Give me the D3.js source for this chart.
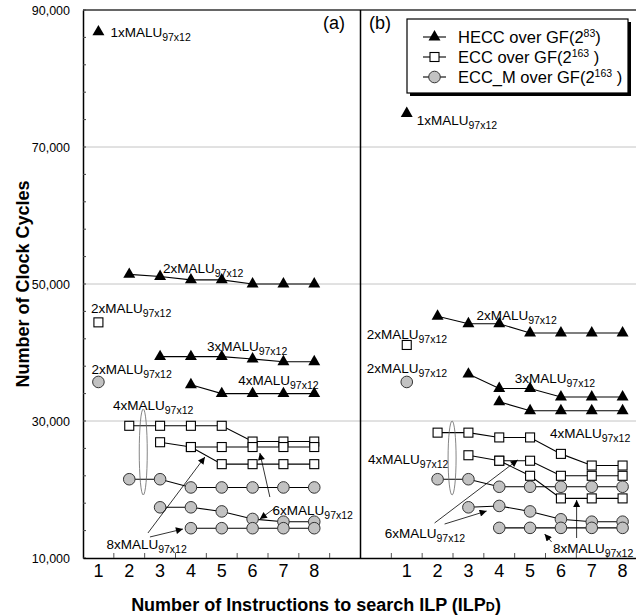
<!DOCTYPE html>
<html>
<head>
<meta charset="utf-8">
<script src="https://cdn.jsdelivr.net/npm/d3@7"></script>
<style>
  body { margin: 0; background: #fff; }
  text { font-family: "Liberation Sans", Arial, sans-serif; fill: #000; }
</style>
</head>
<body>
<svg width="636" height="615"></svg>
<script>
// ILP values on the x axis, two panels side by side
var ilp = ['1', '2', '3', '4', '5', '6', '7', '8']
var yTicks = [10000, 30000, 50000, 70000, 90000]

// panel (a) - each series starts at the ILP given in "start"
var heccA1 = [86800]
var heccA2 = [51400, 51100, 50600, 50600, 50000, 50000, 50000]
var heccA3 = [39400, 39400, 39400, 39050, 38650, 38650]
var heccA4 = [35300, 34000, 34000, 34000, 34000]
var eccA2 = [44400]
var eccA4 = [29300, 29300, 29300, 29300, 27000, 27000, 27000]
var eccA6 = [26900, 26200, 26200, 26200, 26200, 26200]
var eccA8 = [26200, 23700, 23700, 23700, 23700]
var eccmA2 = [35700]
var eccmA4 = [21500, 21500, 20300, 20300, 20300, 20300, 20300]
var eccmA6 = [17400, 17400, 16800, 15700, 15300, 15300]
var eccmA8 = [14350, 14350, 14350, 14350, 14350]

// panel (b)
var heccB1 = [74900]
var heccB2 = [45300, 44200, 44200, 42850, 42850, 42850, 42850]
var heccB3 = [36850, 34750, 34750, 33500, 33500, 33500]
var heccB4 = [32800, 31500, 31500, 31500, 31500]
var eccB2 = [41100]
var eccB4 = [28300, 28300, 27600, 27600, 25200, 23500, 23500]
var eccB6 = [25000, 24200, 24200, 22000, 22000, 22000]
var eccB8 = [24200, 22000, 18700, 18700, 18700]
var eccmB2 = [35700]
var eccmB4 = [21500, 21500, 20400, 20400, 20400, 20400, 20400]
var eccmB6 = [17400, 17600, 16800, 15650, 15300, 15300]
var eccmB8 = [14400, 14400, 14400, 14400, 14400]

var series = [
  { type: 'hecc', panel: 'a', start: 1, vals: heccA1 },
  { type: 'hecc', panel: 'a', start: 2, vals: heccA2 },
  { type: 'hecc', panel: 'a', start: 3, vals: heccA3 },
  { type: 'hecc', panel: 'a', start: 4, vals: heccA4 },
  { type: 'ecc', panel: 'a', start: 1, vals: eccA2 },
  { type: 'ecc', panel: 'a', start: 2, vals: eccA4 },
  { type: 'ecc', panel: 'a', start: 3, vals: eccA6 },
  { type: 'ecc', panel: 'a', start: 4, vals: eccA8 },
  { type: 'eccm', panel: 'a', start: 1, vals: eccmA2 },
  { type: 'eccm', panel: 'a', start: 2, vals: eccmA4 },
  { type: 'eccm', panel: 'a', start: 3, vals: eccmA6 },
  { type: 'eccm', panel: 'a', start: 4, vals: eccmA8 },
  { type: 'hecc', panel: 'b', start: 1, vals: heccB1 },
  { type: 'hecc', panel: 'b', start: 2, vals: heccB2 },
  { type: 'hecc', panel: 'b', start: 3, vals: heccB3 },
  { type: 'hecc', panel: 'b', start: 4, vals: heccB4 },
  { type: 'ecc', panel: 'b', start: 1, vals: eccB2 },
  { type: 'ecc', panel: 'b', start: 2, vals: eccB4 },
  { type: 'ecc', panel: 'b', start: 3, vals: eccB6 },
  { type: 'ecc', panel: 'b', start: 4, vals: eccB8 },
  { type: 'eccm', panel: 'b', start: 1, vals: eccmB2 },
  { type: 'eccm', panel: 'b', start: 2, vals: eccmB4 },
  { type: 'eccm', panel: 'b', start: 3, vals: eccmB6 },
  { type: 'eccm', panel: 'b', start: 4, vals: eccmB8 }
]

// annotations: panel, ILP, x nudge, value at text baseline, multiplier
var notes = [
  ['a', '1', 12, 86000, '1'], ['a', '3', 3, 51600, '2'], ['a', '1', -7.5, 45770, '2'],
  ['a', '1', -7, 36860, '2'], ['a', '4', 16, 40150, '3'], ['a', '5', 16.5, 35260, '4'],
  ['a', '1', 14.6, 31600, '4'], ['a', '6', 20, 16280, '6'], ['a', '1', 8, 11310, '8'],
  ['b', '1', 10, 73220, '1'], ['b', '3', 8, 44750, '2'], ['b', '1', -40, 41970, '2'],
  ['b', '1', -40, 37010, '2'], ['b', '4', 15.5, 35550, '3'], ['b', '6', -11, 27520, '4'],
  ['b', '1', -38.7, 23720, '4'], ['b', '1', -22, 12920, '6'], ['b', '6', -8, 10730, '8']
]
var arrows = [
  ['a', '2', 18.7, 13650, '4', 14, 24750], ['a', '2', 20.7, 13070, '4', -8, 14230],
  ['a', '6', 17.3, 18900, '6', 7.3, 25330], ['a', '6', 22.3, 17300, '6', 7.3, 15690],
  ['b', '2', -3, 15110, '5', -12.4, 24310], ['b', '2', 7, 14960, '4', -12.6, 16860],
  ['b', '6', 15.7, 12920, '6', 15.7, 18470], ['b', '6', -9.3, 12340, '6', -16.3, 13500]
]
var ellipses = [['a', '2', 14, 25480, 6280], ['b', '2', 14.5, 24600, 5400]]

var legendItems = [
  { type: 'hecc', text: 'HECC over GF(2', sup: '83', tail: ')' },
  { type: 'ecc', text: 'ECC over GF(2', sup: '163', tail: ' )' },
  { type: 'eccm', text: 'ECC_M over GF(2', sup: '163', tail: ' )' }
]

var svg = d3.select('svg')
var margin = { top: 10, right: 638, bottom: 558, left: 83 }

var keys = ilp.map(d => 'a' + d).concat(['g1', 'g2'], ilp.map(d => 'b' + d))
var x = d3.scaleBand().domain(keys).range([margin.left, margin.right])
var y = d3.scaleLinear().domain([10000, 90000]).range([margin.bottom, margin.top])
var xc = (p, k) => x(p + k) + x.bandwidth() / 2

var defs = svg.append('defs')
defs.append('marker').attr('id', 'head')
  .attr('viewBox', '0 0 10 10').attr('refX', 10).attr('refY', 5)
  .attr('markerWidth', 9).attr('markerHeight', 7).attr('markerUnits', 'userSpaceOnUse')
  .attr('orient', 'auto')
  .append('path').attr('d', 'M0,0L10,5L0,10z').attr('fill', '#000')

// grid
svg.append('g').selectAll('line').data([30000, 50000, 70000]).join('line')
  .attr('x1', margin.left).attr('x2', margin.right)
  .attr('y1', d => y(d)).attr('y2', d => y(d))
  .attr('stroke', '#c4c4c4').attr('stroke-width', 1)

svg.append('line').attr('x1', margin.left).attr('x2', margin.right)
  .attr('y1', y(90000)).attr('y2', y(90000))
  .attr('stroke', '#333').attr('stroke-width', 1.3)

// y axis
var ya = svg.append('g').attr('transform', 'translate(' + margin.left + ',0)')
  .call(d3.axisLeft(y).tickValues(yTicks).tickFormat(d3.format(',')).tickSize(0).tickPadding(13))
ya.select('.domain').attr('stroke', '#000').attr('stroke-width', 1.5)
ya.selectAll('text').attr('font-size', 12.5).attr('font-family', '"Liberation Sans", Arial, sans-serif')

svg.append('g').selectAll('line').data(d3.range(10000, 90001, 4000)).join('line')
  .attr('x1', margin.left).attr('x2', margin.left + 3)
  .attr('y1', d => y(d)).attr('y2', d => y(d))
  .attr('stroke', '#444')

// x axis
var xa = svg.append('g').attr('transform', 'translate(0,' + margin.bottom + ')')
  .call(d3.axisBottom(x).tickSize(0).tickPadding(6).tickFormat(k => k[0] === 'g' ? '' : k.slice(1)))
xa.select('.domain').attr('stroke', '#000').attr('stroke-width', 1.5)
xa.selectAll('text').attr('font-size', 18).attr('font-family', '"Liberation Sans", Arial, sans-serif')

svg.append('g').selectAll('line').data(keys.slice(1)).join('line')
  .attr('x1', d => x(d)).attr('x2', d => x(d))
  .attr('y1', margin.bottom).attr('y2', margin.bottom - 5)
  .attr('stroke', '#555')

// divider between panels
svg.append('line').attr('x1', x('g2')).attr('x2', x('g2'))
  .attr('y1', y(90000)).attr('y2', y(10000))
  .attr('stroke', '#000').attr('stroke-width', 1.5)

// lines and markers
var line = d3.line().x(d => xc(d.panel, d.k)).y(d => y(d.v))
var pts = series.map(s => s.vals.map((v, i) => ({ panel: s.panel, type: s.type, k: String(s.start + i), v: v })))

svg.append('g').selectAll('path').data(pts.filter(p => p.length > 1)).join('path')
  .attr('d', line).attr('fill', 'none').attr('stroke', '#000').attr('stroke-width', 1.1)

function drawMarker(sel, type) {
  if (type === 'hecc') {
    sel.append('path').attr('d', d3.symbol(d3.symbolTriangle, 62)).attr('fill', '#000')
  } else if (type === 'ecc') {
    sel.append('rect').attr('x', -4.5).attr('y', -4.5).attr('width', 9).attr('height', 9)
      .attr('fill', '#fff').attr('stroke', '#000').attr('stroke-width', 1.1)
  } else {
    sel.append('circle').attr('r', 5.8).attr('fill', '#c2c2c2').attr('stroke', '#333').attr('stroke-width', 1)
  }
}

var all = pts.flat()
svg.append('g').selectAll('g').data(all).join('g')
  .attr('transform', d => 'translate(' + xc(d.panel, d.k) + ',' + y(d.v) + ')')
  .each(function (d) { drawMarker(d3.select(this), d.type) })

// annotations
var nt = svg.append('g').selectAll('text').data(notes).join('text')
  .attr('x', d => xc(d[0], d[1]) + d[2]).attr('y', d => y(d[3]))
  .attr('font-size', 13.5)
nt.append('tspan').text(d => d[4] + 'xMALU')
nt.append('tspan').attr('font-size', 10.5).attr('dy', 4).text('97x12')

svg.append('g').selectAll('line').data(arrows).join('line')
  .attr('x1', d => xc(d[0], d[1]) + d[2]).attr('y1', d => y(d[3]))
  .attr('x2', d => xc(d[0], d[4]) + d[5]).attr('y2', d => y(d[6]))
  .attr('stroke', '#000').attr('stroke-width', 0.8).attr('marker-end', 'url(#head)')

svg.append('g').selectAll('ellipse').data(ellipses).join('ellipse')
  .attr('cx', d => xc(d[0], d[1]) + d[2]).attr('cy', d => y(d[3]))
  .attr('rx', 4).attr('ry', d => y(d[3] - d[4]) - y(d[3]))
  .attr('fill', 'none').attr('stroke', '#666').attr('stroke-width', 0.8)

// panel letters
svg.append('text').attr('x', 323).attr('y', 29).attr('font-size', 18).text('(a)')
svg.append('text').attr('x', 369).attr('y', 29).attr('font-size', 18).text('(b)')

// legend
var lg = svg.append('g').attr('transform', 'translate(407,19)')
lg.append('rect').attr('x', 3).attr('y', 3).attr('width', 221).attr('height', 74).attr('fill', '#000')
lg.append('rect').attr('width', 221).attr('height', 74).attr('fill', '#fff').attr('stroke', '#000').attr('stroke-width', 1.2)
var li = lg.selectAll('g.item').data(legendItems).join('g').attr('class', 'item')
  .attr('transform', (d, i) => 'translate(0,' + (18 + i * 20) + ')')
li.append('line').attr('x1', 16).attr('x2', 39).attr('stroke', '#000').attr('stroke-width', 1.1)
li.append('g').attr('transform', 'translate(27.5,0)').each(function (d) { drawMarker(d3.select(this), d.type) })
var lt = li.append('text').attr('x', 51).attr('y', 6).attr('font-size', 16.5)
lt.append('tspan').text(d => d.text)
lt.append('tspan').attr('font-size', 10.5).attr('dy', -6).text(d => d.sup)
lt.append('tspan').attr('dy', 6).text(d => d.tail)

// axis titles
svg.append('text')
  .attr('transform', 'translate(29,284) rotate(-90)')
  .attr('text-anchor', 'middle').attr('font-size', 18).attr('font-weight', 'bold')
  .text('Number of Clock Cycles')

var xt = svg.append('text').attr('x', 316).attr('y', 611)
  .attr('text-anchor', 'middle').attr('font-size', 18).attr('font-weight', 'bold')
xt.append('tspan').text('Number of Instructions to search ILP (ILP')
xt.append('tspan').attr('font-size', 12.5).text('D')
xt.append('tspan').text(')')
</script>
</body>
</html>
